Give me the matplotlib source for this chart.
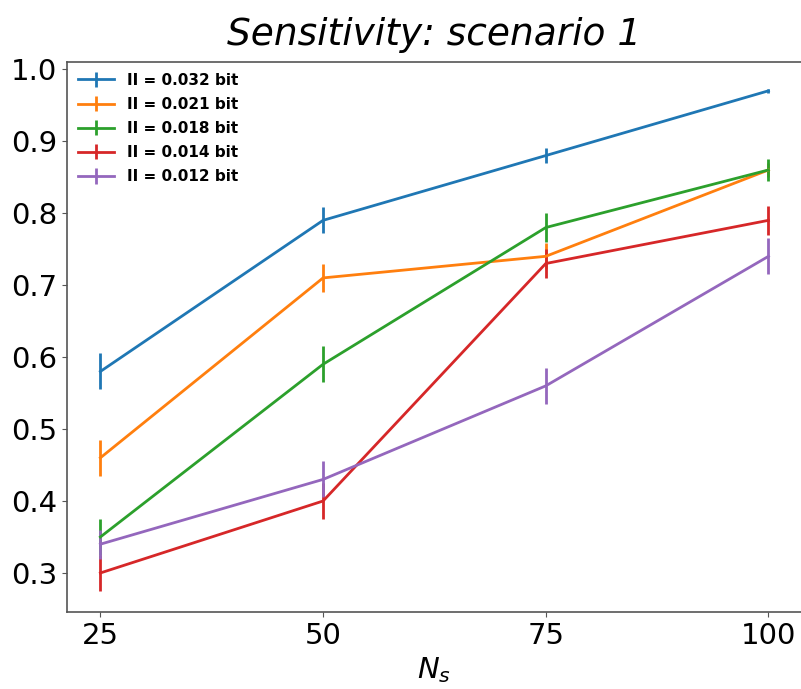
import numpy as np
import matplotlib.pyplot as plt

ns = [25, 50, 75, 100]
labels = ["II = 0.032 bit", "II = 0.021 bit", "II = 0.018 bit", "II = 0.014 bit", "II = 0.012 bit"]
sens = [
    [0.58, 0.79, 0.88, 0.97],
    [0.46, 0.71, 0.74, 0.86],
    [0.35, 0.59, 0.78, 0.86],
    [0.30, 0.40, 0.73, 0.79],
    [0.34, 0.43, 0.56, 0.74],
]
errs = [
    [0.025, 0.018, 0.010, 0.003],
    [0.025, 0.020, 0.018, 0.010],
    [0.025, 0.025, 0.020, 0.015],
    [0.025, 0.025, 0.020, 0.020],
    [0.020, 0.025, 0.025, 0.025],
]

fig = plt.figure(figsize=(8.01, 6.89), dpi=100)
ax = fig.add_axes([0.0836, 0.112, 0.9175, 0.798])
for y, e, lab in zip(sens, errs, labels):
    ax.errorbar(ns, y, yerr=e, label=lab, lw=2)

ax.set_xlim(21.25, 103.75)
ax.set_ylim(0.246, 1.01)
ax.set_xticks(ns)
ax.set_yticks([0.3, 0.4, 0.5, 0.6, 0.7, 0.8, 0.9, 1.0])
ax.tick_params(labelsize=21, colors="#555555", labelcolor="black")
ax.set_xlabel("$N_s$", fontsize=21, labelpad=4)
ax.set_title("Sensitivity: scenario 1", fontsize=27, style="italic", pad=12)
for s in ax.spines.values():
    s.set_color("#555555")
    s.set_linewidth(1.2)
ax.legend(loc="upper left", frameon=False, prop={"size": 11, "weight": "bold"},
          handlelength=2.4, labelspacing=0.6, borderaxespad=0.3)

fig.savefig("out.png", dpi=100)
